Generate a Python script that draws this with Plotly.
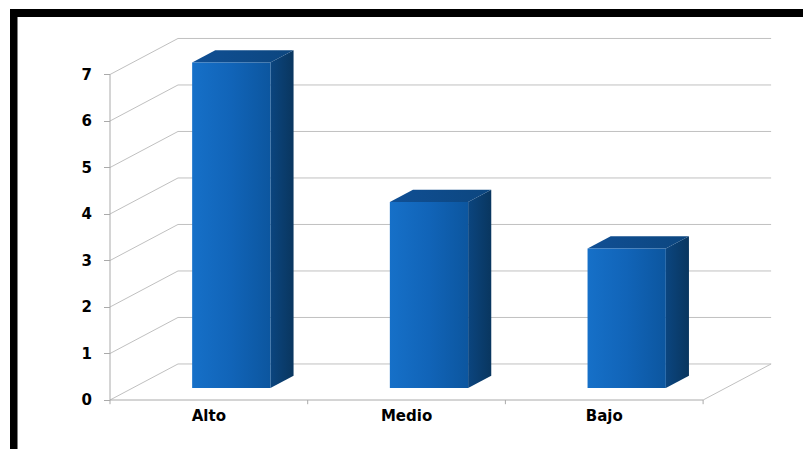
import plotly.graph_objects as go

# Data
categories = ["Alto", "Medio", "Bajo"]
values = [7, 4, 3]
tick_values = [0, 1, 2, 3, 4, 5, 6, 7]

# Oblique projection of the depth axis (in data units)
DEPTH_X = 0.344   # horizontal shift of the back wall, in category units
DEPTH_Y = 0.775   # vertical shift of the back wall, in value units
BAR_HALF = 0.198  # half bar width, in category units
F_FRONT, F_BACK = 0.33, 0.67  # bar depth span as a fraction of the floor depth

GRID = "#c0c0c0"
n = len(categories)
ymax = max(tick_values)

fig = go.Figure()

def line(xs, ys, color=GRID, width=1):
    fig.add_trace(go.Scatter(x=xs, y=ys, mode="lines", hoverinfo="skip",
                             line=dict(color=color, width=width), showlegend=False))

# Back wall gridlines and left side wall diagonals
for v in tick_values:
    line([DEPTH_X, n + DEPTH_X], [v + DEPTH_Y, v + DEPTH_Y])
    line([0, DEPTH_X], [v, v + DEPTH_Y])

# Floor: front edge and right diagonal
line([0, n], [0, 0], color="#aaaaaa")
line([n, n + DEPTH_X], [0, DEPTH_Y])
# Front value axis
line([0, 0], [0, ymax], color="#aaaaaa")
# Category boundary ticks on the floor edge
for i in range(n + 1):
    line([i, i], [0, -0.09], color="#aaaaaa")

# 3D bars
for i, v in enumerate(values):
    c = i + 0.5
    xl_f, xr_f = c - BAR_HALF + F_FRONT * DEPTH_X, c + BAR_HALF + F_FRONT * DEPTH_X
    xl_b, xr_b = c - BAR_HALF + F_BACK * DEPTH_X, c + BAR_HALF + F_BACK * DEPTH_X
    yb_f, yb_b = F_FRONT * DEPTH_Y, F_BACK * DEPTH_Y

    # side face
    fig.add_trace(go.Scatter(
        x=[xr_f, xr_b, xr_b, xr_f, xr_f],
        y=[yb_f, yb_b, v + yb_b, v + yb_f, yb_f],
        fill="toself", mode="lines", line=dict(width=0, color="#0a3a70"),
        fillgradient=dict(type="horizontal",
                          colorscale=[[0, "#0b457f"], [1, "#09365f"]]),
        hoverinfo="skip", showlegend=False))
    # top face
    fig.add_trace(go.Scatter(
        x=[xl_f, xr_f, xr_b, xl_b, xl_f],
        y=[v + yb_f, v + yb_f, v + yb_b, v + yb_b, v + yb_f],
        fill="toself", mode="lines", line=dict(width=0, color="#0d4c8f"),
        fillgradient=dict(type="horizontal",
                          colorscale=[[0, "#104f94"], [1, "#0c467f"]]),
        hoverinfo="skip", showlegend=False))
    # front face
    fig.add_trace(go.Scatter(
        x=[xl_f, xr_f, xr_f, xl_f, xl_f],
        y=[yb_f, yb_f, v + yb_f, v + yb_f, yb_f],
        fill="toself", mode="lines", line=dict(width=0, color="#1064b8"),
        fillgradient=dict(type="horizontal",
                          colorscale=[[0, "#1670c8"], [0.5, "#1164b8"],
                                      [1, "#0c569f"]]),
        hoverinfo="skip", showlegend=False))

L, R, T, B = 20, 790, 20, 440
W, H = 803, 449
px_per_x = 197.7
px_per_y = 46.5
x0_px, y0_px = 110, 400

label_font = dict(family="DejaVu Sans", size=15, color="black", weight="bold")

fig.update_layout(
    width=W, height=H,
    margin=dict(l=L, r=W - R, t=T, b=H - B),
    paper_bgcolor="white", plot_bgcolor="white",
    showlegend=False,
    xaxis=dict(
        range=[(L - x0_px) / px_per_x, (R - x0_px) / px_per_x],
        showgrid=False, zeroline=False, showline=False,
        tickvals=[i + 0.5 for i in range(n)], ticktext=categories,
        ticks="", anchor="free", position=(B - y0_px) / (B - T),
        tickfont=label_font,
        ticklabelstandoff=5,
        fixedrange=True,
    ),
    yaxis=dict(
        range=[(y0_px - B) / px_per_y, (y0_px - T) / px_per_y],
        showgrid=False, zeroline=False, showline=False,
        tickvals=tick_values, ticks="outside", ticklen=6, tickcolor="#aaaaaa",
        anchor="free", position=(x0_px - L) / (R - L),
        tickfont=label_font,
        ticklabelstandoff=9,
        fixedrange=True,
    ),
    shapes=[
        # black frame (top and left)
        dict(type="rect", xref="paper", yref="paper", layer="above",
             x0=(10 - L) / (R - L), x1=(W - L) / (R - L) + 0.01,
             y0=(B - 17) / (B - T), y1=(B - 9) / (B - T),
             fillcolor="black", line=dict(width=0)),
        dict(type="rect", xref="paper", yref="paper", layer="above",
             x0=(10 - L) / (R - L), x1=(17.5 - L) / (R - L),
             y0=(B - H - 5) / (B - T), y1=(B - 9) / (B - T),
             fillcolor="black", line=dict(width=0)),
    ],
)

fig.write_html("out.html")
